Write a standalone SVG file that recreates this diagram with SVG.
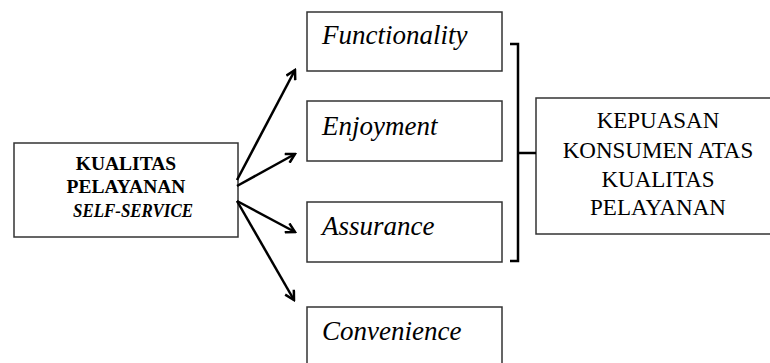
<svg xmlns="http://www.w3.org/2000/svg" width="770" height="363" viewBox="0 0 770 363">
<style>
.box{fill:#fff;stroke:#333;stroke-width:1.5}
.it{font-style:italic;font-size:27px}
.bl{font-weight:bold;font-size:19.5px;text-anchor:middle}
.rt{font-size:23px;text-anchor:middle}
.ln{fill:none;stroke:#000;stroke-width:2.5}
</style>
<defs>
<marker id="ah" viewBox="0 0 12 12" refX="10" refY="6" markerWidth="12" markerHeight="12" markerUnits="userSpaceOnUse" orient="auto">
<polyline points="1,1 10,6 1,11" fill="none" stroke="#000" stroke-width="2.5"/>
</marker>
</defs>
<rect width="770" height="363" fill="#fff"/>
<g font-family="Liberation Serif, DejaVu Serif, serif" fill="#000">
<g id="src">
<rect class="box" x="14" y="143" width="224" height="94"/>
<text class="bl" x="126" y="170">KUALITAS</text>
<text class="bl" x="126" y="193">PELAYANAN</text>
<text class="bl" x="133" y="217" font-style="italic" textLength="120" lengthAdjust="spacingAndGlyphs">SELF-SERVICE</text>
</g>
<g id="functionality">
<rect class="box" x="307" y="12" width="195" height="59"/>
<text class="it" x="322" y="44">Functionality</text>
</g>
<g id="enjoyment">
<rect class="box" x="307" y="101" width="195" height="60"/>
<text class="it" x="322" y="135">Enjoyment</text>
</g>
<g id="assurance">
<rect class="box" x="307" y="202" width="195" height="60"/>
<text class="it" x="322" y="235">Assurance</text>
</g>
<g id="convenience">
<rect class="box" x="307" y="307" width="195" height="70"/>
<text class="it" x="322" y="340">Convenience</text>
</g>
<g id="target">
<rect class="box" x="536" y="98" width="240" height="136"/>
<text class="rt" x="658" y="128">KEPUASAN</text>
<text class="rt" x="658" y="158">KONSUMEN ATAS</text>
<text class="rt" x="658" y="187">KUALITAS</text>
<text class="rt" x="658" y="215">PELAYANAN</text>
</g>
</g>
<g id="connectors">
<line class="ln" x1="237" y1="180" x2="295" y2="70" marker-end="url(#ah)"/>
<line class="ln" x1="237" y1="186" x2="295" y2="154" marker-end="url(#ah)"/>
<line class="ln" x1="237" y1="201" x2="295" y2="232" marker-end="url(#ah)"/>
<line class="ln" x1="237" y1="201" x2="294" y2="300" marker-end="url(#ah)"/>
<polyline class="ln" points="510,44 518,44 518,261 510,261"/>
<line class="ln" x1="518" y1="153" x2="536" y2="153"/>
</g>
</svg>
